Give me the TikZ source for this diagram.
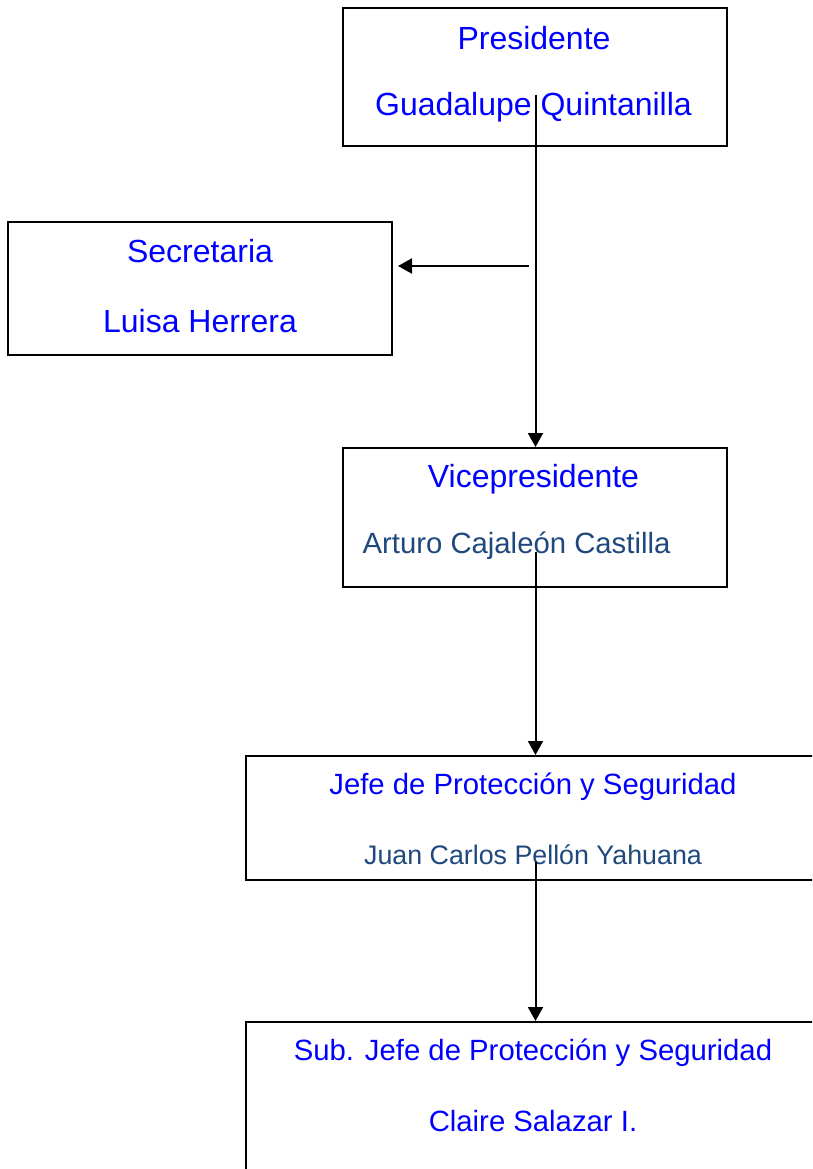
\documentclass[tikz,border=0pt]{standalone}
\usepackage{fontspec}
\setmainfont{Liberation Sans}
\usetikzlibrary{arrows.meta}
\definecolor{nameblue}{RGB}{31,73,125}
\begin{document}
\begin{tikzpicture}[x=1pt,y=-1pt,
  box/.style={draw=black, line width=2pt, inner sep=0pt},
  big/.style={text=blue, font=\fontsize{32}{38}\selectfont, inner sep=0pt},
  mid/.style={text=blue, font=\fontsize{29.3}{35}\selectfont, inner sep=0pt},
  nmA/.style={text=nameblue, font=\fontsize{29.3}{35}\selectfont, inner sep=0pt},
  nmB/.style={text=nameblue, font=\fontsize{26.8}{32}\selectfont, inner sep=0pt},
  arr/.style={line width=2pt, -{Triangle[length=14pt,width=15pt]}}]
\useasboundingbox (0,0) rectangle (812,1169);
\fill[white] (0,0) rectangle (812,1169);
\begin{scope}
\clip (0,0) rectangle (812,1169);
% boxes
\node[box, minimum width=384pt, minimum height=138pt] (pres) at (534.5,77) {};
\node[box, minimum width=384pt, minimum height=133pt] (sec) at (200,288.5) {};
\node[box, minimum width=384pt, minimum height=139pt] (vice) at (534.5,517.5) {};
\node[box, minimum width=580pt, minimum height=124pt] (jefe) at (536,818) {};
\node[box, minimum width=580pt, minimum height=180pt] (sub) at (536,1112) {};
% texts
\node[big] (t1) at (534,38) {Presidente};
\node[big] (t2) at (533.5,107) {Guadalupe Quintanilla};
\node[big] (t3) at (200,251) {Secretaria};
\node[big] (t4) at (200,321) {Luisa Herrera};
\node[big] (t5) at (533.5,479) {Vicepresidente};
\node[nmA] (t6) at (516.5,546) {Arturo Cajaleón Castilla};
\node[mid] (t7) at (533,787) {Jefe de Protección y Seguridad};
\node[nmB] (t8) at (533,855) {Juan Carlos Pellón Yahuana};
\node[mid] (t9) at (533,1053) {Sub. Jefe de Protección y Seguridad};
\node[mid] (t10) at (533,1121) {Claire Salazar I.};
% connectors
\coordinate (p1) at (535.5,95);
\coordinate (h1) at (529,266);
\coordinate (v1) at (535.5,552);
\coordinate (j1) at (535.5,862);
\draw[arr] (p1) -- (p1 |- vice.north);
\draw[arr] (h1) -- ([xshift=5pt]sec.east |- h1);
\draw[arr] (v1) -- (v1 |- jefe.north);
\draw[arr] (j1) -- (j1 |- sub.north);
\end{scope}
\end{tikzpicture}
\end{document}
